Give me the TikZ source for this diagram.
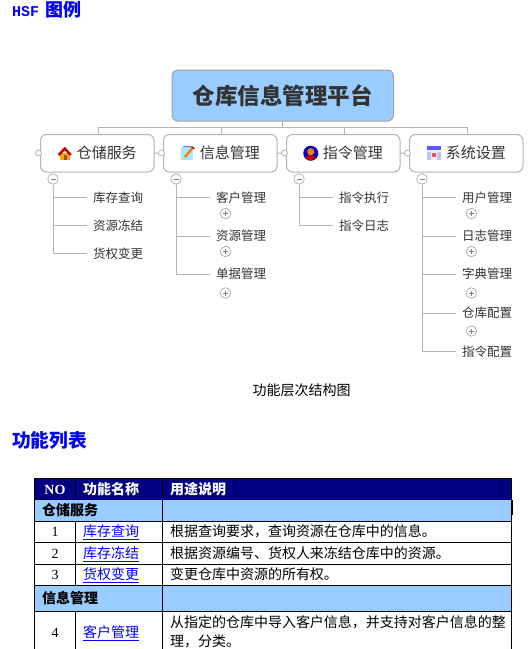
\documentclass[tikz,border=0pt]{standalone}
\usepackage{fontspec}
\setmainfont{Noto Sans CJK SC}
\newfontfamily\serifnum{Liberation Serif}
\newfontfamily\headmono{Liberation Mono}
\usetikzlibrary{positioning, calc}
\definecolor{rootblue}{HTML}{99CCFF}
\definecolor{linegray}{HTML}{B4B4B4}
\definecolor{inkgray}{HTML}{333333}
\definecolor{headnavy}{HTML}{000080}

\tikzset{
  rootbox/.style={draw=linegray!90!black, fill=rootblue, line width=1pt, rounded corners=6pt, outer sep=0pt, minimum width=221.5pt, minimum height=51pt, inner sep=0pt, text=inkgray, font=\fontsize{22.5}{24}\selectfont\bfseries},
  topicbox/.style={draw=linegray, fill=white, line width=1pt, rounded corners=6pt, outer sep=0pt, minimum width=113.5pt, minimum height=37.5pt, inner sep=0pt, text height=13.2pt, text depth=1.8pt, text=inkgray, font=\fontsize{15}{17}\selectfont},
  leaf/.style={anchor=west, outer sep=0pt, inner xsep=6pt, inner ysep=0pt, text height=11pt, text depth=1.5pt, text=inkgray, font=\fontsize{12.5}{14}\selectfont},
  hubdot/.style={circle, draw=linegray, fill=white, line width=.8pt, minimum size=6pt, inner sep=0pt},
  foldminus/.style={circle, draw=linegray, fill=white, line width=.8pt, minimum size=10.5pt, inner sep=0pt, path picture={\draw[gray, line width=1pt] ([xshift=-2.5pt]path picture bounding box.center) -- ([xshift=2.5pt]path picture bounding box.center);}},
  foldplus/.style={circle, draw=linegray, fill=white, line width=.8pt, minimum size=10.5pt, inner sep=0pt, path picture={\draw[gray, line width=.8pt] ([xshift=-2.5pt]path picture bounding box.center) -- ([xshift=2.5pt]path picture bounding box.center) ([yshift=-2.5pt]path picture bounding box.center) -- ([yshift=2.5pt]path picture bounding box.center);}},
  link/.style={draw=linegray, line width=1pt},
  heading/.style={anchor=west, inner sep=0pt, text=blue, font=\fontsize{18.7}{20}\selectfont\bfseries},
  tcell/.style={draw=black, line width=1pt, outer sep=0pt, anchor=north west, inner sep=0pt, text height=12.3pt, text depth=1.7pt, font=\fontsize{14}{19}\selectfont},
  colno/.style={tcell, minimum width=41pt, align=center},
  colname/.style={tcell, minimum width=86.5pt, text width=71.5pt, inner xsep=7.5pt, align=left},
  coldesc/.style={tcell, minimum width=349.5pt, text width=333.5pt, inner xsep=8pt, align=left},
  colgroup/.style={tcell, minimum width=127.5pt, text width=112.5pt, inner xsep=7.5pt, align=left, fill=rootblue, font=\fontsize{14}{19}\selectfont\bfseries},
  headtxt/.style={fill=headnavy, text=white, font=\fontsize{14}{19}\selectfont\bfseries},
  bluerow/.style={fill=rootblue},
  houseicon/.pic={
    \fill[orange!70!yellow] (-5,0) rectangle (5,6.5);
    \fill[red!75!black] (-7,1) -- (0,-6.5) -- (7,1) -- (5,2.5) -- (0,-3) -- (-5,2.5) -- cycle;
    \fill[brown!70!black] (-1,2) rectangle (2.5,6.5);
  },
  noteicon/.pic={
    \fill[blue!25!cyan!35] (-7,-6) rectangle (5,7);
    \draw[blue!60, line width=.8pt] (-5,-6.5) -- (3.5,-6.5);
    \draw[orange, line width=2.4pt] (-3,4) -- (5.5,-6);
    \fill[red!70!black] (4.2,-7) -- (7,-5) -- (6.2,-4) -- (3.2,-6) -- cycle;
  },
  personicon/.pic={
    \fill[blue!75!black] (0,0) circle (7.5);
    \fill[orange] (0,-1.5) circle (3.6);
    \fill[red!80!black] (-5.5,5) .. controls (-4,.8) and (4,.8) .. (5.5,5) -- (0,7) -- cycle;
  },
  calicon/.pic={
    \fill[blue!8] (-7,-4) rectangle (7,7);
    \fill[blue!65] (-7,-7) rectangle (7,-3);
    \fill[blue!25] (-7,-1) rectangle (-3,7);
    \fill[blue!25] (3,-1) rectangle (7,7);
    \fill[red!70] (-1.5,0) rectangle (2,3.5);
  }
}

\begin{document}
\begin{tikzpicture}[x=1pt, y=-1pt]
\useasboundingbox (0,0) rectangle (528,649);
\clip (0,0) rectangle (528,649);

% Headings
\node[heading] (legendhead) at (12,10) {{\headmono\fontsize{15}{17}\selectfont HSF}\hspace{2pt} {\fontsize{18}{20}\selectfont 图例}};
\node[heading] (listhead) at (12,440) {功能列表};

% Root and topics
\node[rootbox] (platform) at (282.75,95.5) {仓库信息管理平台};
\node[topicbox] (storage) at (97.25,153.25) {\hspace*{19pt}仓储服务};
\node[topicbox, right=9.5pt of storage] (info) {\hspace*{19pt}信息管理};
\node[topicbox, right=9.5pt of info] (command) {\hspace*{19pt}指令管理};
\node[topicbox, right=9.5pt of command] (settings) {\hspace*{19pt}系统设置};

% Icons
\pic at ($(storage.center)+(-32.5,0)$) {houseicon};
\pic at ($(info.center)+(-32.5,0)$) {noteicon};
\pic at ($(command.center)+(-32.5,0)$) {personicon};
\pic at ($(settings.center)+(-32.5,0)$) {calicon};

% Side dots
\node[hubdot] (storagedot) at (38.5,153) {};
\node[hubdot] (infodot) at (161.5,153) {};
\node[hubdot] (commanddot) at (284.5,153) {};
\node[hubdot] (settingsdot) at (407.5,153) {};

% Fold marks
\node[foldminus] (storagefold) at (53,179) {};
\node[foldminus] (infofold) at (176,179) {};
\node[foldminus] (commandfold) at (299,179) {};
\node[foldminus] (settingsfold) at (422,179) {};

% Leaves
\node[leaf] (stock) at (87,197.5) {库存查询};
\node[leaf] (freeze) at (87,225.5) {资源冻结};
\node[leaf] (owner) at (87,253.5) {货权变更};
\node[leaf] (client) at (210,197.5) {客户管理};
\node[leaf] (resource) at (210,236) {资源管理};
\node[leaf] (bill) at (210,274) {单据管理};
\node[leaf] (exec) at (333,197.5) {指令执行};
\node[leaf] (cmdlog) at (333,225.5) {指令日志};
\node[leaf] (user) at (456,197.5) {用户管理};
\node[leaf] (syslog) at (456,236) {日志管理};
\node[leaf] (dict) at (456,274) {字典管理};
\node[leaf] (depot) at (456,313) {仓库配置};
\node[leaf] (cmdconf) at (456,351.5) {指令配置};

\node[foldplus] (clientplus) at (225.5,213.5) {};
\node[foldplus] (resourceplus) at (225.5,251.5) {};
\node[foldplus] (billplus) at (225.5,293) {};
\node[foldplus] (userplus) at (471.5,213.5) {};
\node[foldplus] (syslogplus) at (471.5,251.5) {};
\node[foldplus] (dictplus) at (471.5,293) {};
\node[foldplus] (depotplus) at (471.5,331) {};

% Caption
\node[inner sep=0pt, font=\fontsize{14}{16}\selectfont] (caption) at (301.5,390) {功能层次结构图};

% Connectors
\draw[link] (platform.south) -- ++(0,6) -| ([xshift=.75pt]storage.north);
\draw[link] (platform.south) -- ++(0,6) -| ([xshift=.75pt]info.north);
\draw[link] (platform.south) -- ++(0,6) -| ([xshift=.75pt]command.north);
\draw[link] (platform.south) -- ++(0,6) -| ([xshift=.75pt]settings.north);
\draw[link] (storage.east) -- (infodot);
\draw[link] (info.east) -- (commanddot);
\draw[link] (command.east) -- (settingsdot);
\draw[link] (storagefold) |- (stock.west);
\draw[link] (storagefold) |- (freeze.west);
\draw[link] (storagefold) |- (owner.west);
\draw[link] (infofold) |- (client.west);
\draw[link] (infofold) |- (resource.west);
\draw[link] (infofold) |- (bill.west);
\draw[link] (commandfold) |- (exec.west);
\draw[link] (commandfold) |- (cmdlog.west);
\draw[link] (settingsfold) |- (user.west);
\draw[link] (settingsfold) |- (syslog.west);
\draw[link] (settingsfold) |- (dict.west);
\draw[link] (settingsfold) |- (depot.west);
\draw[link] (settingsfold) |- (cmdconf.west);

% Table
\node[colno, headtxt, minimum height=21.5pt, font=\serifnum\fontsize{14}{19}\selectfont\bfseries] (headno) at (34.5,478) {NO};
\node[colname, headtxt, minimum height=21.5pt] (headname) at (headno.north east) {功能名称};
\node[coldesc, headtxt, minimum height=21.5pt] (headdesc) at (headname.north east) {用途说明};

\node[colgroup, minimum height=21.5pt] (groupa) at (34.5,499.5) {仓储服务};
\node[coldesc, bluerow, minimum height=21.5pt] (groupadesc) at (groupa.north east) {};

\node[colno, minimum height=21pt, font=\serifnum\fontsize{14}{19}\selectfont] (noa) at (34.5,521) {1};
\node[colname, minimum height=21pt, text=blue] (namea) at (noa.north east) {\underline{库存查询}};
\node[coldesc, minimum height=21pt] (desca) at (namea.north east) {根据查询要求，查询资源在仓库中的信息。};

\node[colno, minimum height=22pt, font=\serifnum\fontsize{14}{19}\selectfont] (nob) at (34.5,542) {2};
\node[colname, minimum height=22pt, text=blue] (nameb) at (nob.north east) {\underline{库存冻结}};
\node[coldesc, minimum height=22pt] (descb) at (nameb.north east) {根据资源编号、货权人来冻结仓库中的资源。};

\node[colno, minimum height=21pt, font=\serifnum\fontsize{14}{19}\selectfont] (noc) at (34.5,564) {3};
\node[colname, minimum height=21pt, text=blue] (namec) at (noc.north east) {\underline{货权变更}};
\node[coldesc, minimum height=21pt] (descc) at (namec.north east) {变更仓库中资源的所有权。};

\node[colgroup, minimum height=26pt] (groupb) at (34.5,585) {信息管理};
\node[coldesc, bluerow, minimum height=26pt] (groupbdesc) at (groupb.north east) {};

\node[colno, minimum height=42pt, font=\serifnum\fontsize{14}{19}\selectfont] (nod) at (34.5,611) {4};
\node[colname, minimum height=42pt, text=blue] (named) at (nod.north east) {\underline{客户管理}};
\node[coldesc, minimum height=42pt, text depth=20.7pt] (descd) at (named.north east) {从指定的仓库中导入客户信息，并支持对客户信息的整\\理，分类。};

\draw[black, line width=.8pt] ([xshift=1pt]groupadesc.north east) -- ++(0,15);
\end{tikzpicture}
\end{document}
